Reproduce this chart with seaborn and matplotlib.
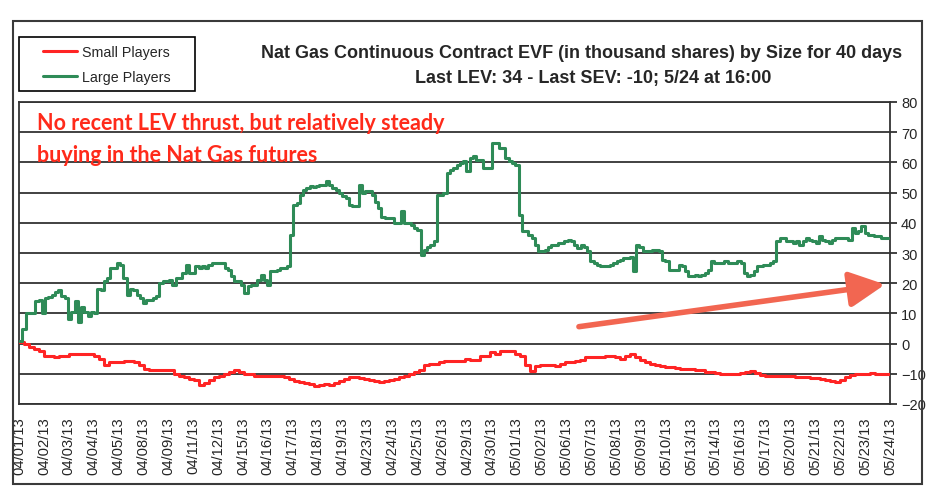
# Nat Gas Continuous Contract EVF by size - recreated with seaborn

import numpy as np
import pandas as pd
import matplotlib.pyplot as plt
import seaborn as sns
from matplotlib.lines import Line2D
from matplotlib.patches import Rectangle
import matplotlib.patheffects as pe

# ==========================================
# Data
# ==========================================

dates = [
    "04/01/13", "04/02/13", "04/03/13", "04/04/13", "04/05/13", "04/08/13",
    "04/09/13", "04/11/13", "04/12/13", "04/15/13", "04/16/13", "04/17/13",
    "04/18/13", "04/19/13", "04/23/13", "04/24/13", "04/25/13", "04/26/13",
    "04/29/13", "04/30/13", "05/01/13", "05/02/13", "05/06/13", "05/07/13",
    "05/08/13", "05/09/13", "05/10/13", "05/13/13", "05/14/13", "05/16/13",
    "05/17/13", "05/20/13", "05/21/13", "05/22/13", "05/23/13", "05/24/13",
]

# large players EVF, thousand shares (04/01 -> 05/24)
large_players = [
    0.7, 5, 10, 10, 10, 14, 14.5, 10, 15, 15.5, 16, 17, 17.6, 15.6, 15, 8.3,
    10.6, 14, 7.3, 12, 10.6, 9, 10.6, 10, 18, 17.6, 20.6, 21.6, 25, 25, 26.6,
    26, 21.6, 16, 18, 17.6, 16, 15, 13.3, 14.3, 14.3, 15, 15.6, 20, 20.6,
    20.6, 21, 19.3, 21.6, 21.6, 23.3, 26, 23.3, 23.3, 25.6, 25, 25.6, 25, 26,
    26.6, 26.6, 26.6, 26.6, 25, 24.3, 22.3, 20.6, 20.6, 19.3, 16.6, 19, 19.3,
    19.3, 21, 22.6, 21, 19.3, 24, 24, 24.3, 25, 25, 25.6, 36, 46, 46.6, 49.3,
    51, 51.6, 52.2, 51.8, 52.2, 52.5, 52.5, 54, 52.5, 51.6, 51, 50, 48.8,
    48.2, 46, 45.5, 45.5, 52.5, 50, 50.5, 50.5, 49.3, 47, 44.8, 42, 41.5,
    41.5, 41.5, 39.9, 39.9, 43.8, 40, 40, 39.3, 38.2, 37.6, 29.3, 31, 32,
    32.6, 34, 49.3, 49.3, 50, 56.5,
    57.5, 58, 59, 59.8, 60.5, 57, 61.5, 62, 60.8, 60.8, 58, 58, 58, 66.5,
    66.5, 64.8, 64.8, 61.5, 60.5, 59.8, 59, 42.5, 37.2, 37.2, 36, 35, 32.6,
    30.6, 30.6, 31, 32, 32.6, 32.6, 33.2, 33.2, 33.9, 34.2, 33.9, 32.6, 31.6,
    32.6, 32, 30.6, 27.2, 26.6, 26, 25.6, 25.6, 25.6, 26, 26.6, 27.2, 27.6,
    28.2, 28.2, 28.8, 23.9, 32.6, 32, 30.6, 30.6, 30.6, 31, 31, 30.6, 27.6,
    27.2, 24.3, 24.3, 24.3, 26, 25.6, 23.9, 22.3, 22.3, 22.6, 22.3, 22.6,
    23.3, 24.3, 27.2, 26.6, 26.6, 26.6, 27.2, 26.6, 26.6, 26.6, 27.2, 26.6,
    23.3, 22.3, 22.6, 23.9, 25.6, 25.6, 26, 26, 26.6, 27.2, 33.9, 35, 35,
    33.9, 33.9, 33.2, 33.9, 32.6, 33.9, 35, 34.2, 33.9, 33.2, 35.5, 34.2,
    33.9, 33.2, 34.2, 35, 35, 35, 35, 34.2, 38.2, 36.5, 37.2, 38.8, 36.5, 36,
    36, 35.5, 35.5, 35, 35, 35,
]

# small players EVF, thousand shares (04/01 -> 05/24)
small_players = [
    0.5, 0, -1, -1.7, -2.3, -4, -4, -4.4, -4, -4, -3.3, -3.3, -3.3, -3.3,
    -3.3, -4, -5, -7.2, -6, -6, -6, -5.6, -5.6, -6, -7.2, -8.3, -8.9, -8.9,
    -8.9, -8.9, -8.9, -10, -10.6, -11, -11.6, -12, -13.6, -13, -12, -11,
    -10.6, -10, -9.3, -8.6, -9.3, -10, -10, -10.6, -10.6, -10.6, -10.6,
    -10.6, -10.6, -11, -11.6, -12.3, -12.6, -13, -13.3, -14, -13.6, -13.3,
    -13.6, -13, -12.3, -11.6, -11, -11, -11.3, -11.6, -12, -12.3, -12.6,
    -12.3, -12, -11.6, -11, -10.6, -10, -9.3, -8.6, -7.2, -6.6, -6.6, -6,
    -5.6, -5.6, -5.6, -5.6, -5, -5.3, -5.3, -4, -4, -2.8, -3.3, -2.5, -2.3,
    -2.3, -3.5, -4, -7.2, -9, -7.5, -7.2, -7, -7, -7.5, -6.6, -6, -6, -5.8,
    -5.3, -4.4, -4.4, -4.4, -4.4, -4, -4, -4.6, -5, -4.2, -3.3, -4.6, -5.3,
    -6, -6.6, -7, -7.5, -7.7, -7.7, -8, -8.3, -8.3, -8.3, -8.6, -8.9, -9.3,
    -9.3, -9.6, -10, -10, -10, -10, -9.6, -9.3, -9, -9.6, -10.3, -10.6,
    -10.6, -10.6, -10.6, -10.6, -10.6, -11, -11, -11, -11.3, -11.3, -11.6,
    -12, -12.3, -12.6, -12, -11, -10.3, -10, -10, -10, -9.6, -10, -10, -10,
    -10,
]

series_names = ["Small Players", "Large Players"]
series_colors = {"Small Players": "#ff2424", "Large Players": "#2e8b57"}

title_line1 = "Nat Gas Continuous Contract EVF (in thousand shares) by Size for 40 days"
title_line2 = "Last LEV: 34 - Last SEV: -10; 5/24 at 16:00"
note_lines = ["No recent LEV thrust, but relatively steady",
              "buying in the Nat Gas futures"]

# arrow drawn on the chart (day index, EVF)
arrow_start = (22.5, 5.6)
arrow_end = (34.8, 19.6)

# ==========================================
# Build long-form table
# ==========================================

df_large = pd.DataFrame({
    "day": np.linspace(0, 34.9, len(large_players)),
    "EVF": large_players,
    "Series": "Large Players",
})
df_small = pd.DataFrame({
    "day": np.linspace(0, 35, len(small_players)),
    "EVF": small_players,
    "Series": "Small Players",
})
df = pd.concat([df_small, df_large], ignore_index=True)

# ==========================================
# Plot
# ==========================================

sns.set_style("white")
plt.rcParams["font.family"] = ["Liberation Sans", "DejaVu Sans"]

W, H = 934, 489
fig = plt.figure(figsize=(W / 100, H / 100), dpi=100)

# outer chart frame
fig.patches.append(Rectangle((13 / W, 1 - 485 / H), (922 - 13) / W, (485 - 22) / H,
                             transform=fig.transFigure, fill=False,
                             edgecolor="#3a3a3a", linewidth=1.5))

ax = fig.add_axes([19 / W, 1 - 405 / H, (890 - 19) / W, (405 - 103) / H])

sns.lineplot(data=df, x="day", y="EVF", hue="Series", hue_order=series_names,
             palette=series_colors, estimator=None, drawstyle="steps-post",
             linewidth=2.2, legend=False, ax=ax, zorder=3)

ax.set_xlim(0, 35)
ax.set_ylim(-20, 80)
ax.set_yticks(range(-20, 81, 10))
ax.yaxis.tick_right()
ax.grid(axis="y", color="#333333", linewidth=1.3)
ax.set_axisbelow(True)

ax.set_xticks(range(len(dates)))
ax.set_xticklabels(dates, rotation=90, fontsize=10.6)
ax.tick_params(axis="x", length=0, pad=9)
ax.tick_params(axis="y", direction="out", length=5, width=1.3, color="#333333",
               labelsize=10.5, pad=3)
ax.set_xlabel("")
ax.set_ylabel("")

for sp in ax.spines.values():
    sp.set_color("#333333")
    sp.set_linewidth(1.3)

# arrow
ax.annotate("", xy=arrow_end, xytext=arrow_start,
            arrowprops=dict(arrowstyle="-|>,head_length=1.2,head_width=0.6",
                            color="#f26651", lw=4, mutation_scale=18,
                            shrinkA=0, shrinkB=0,
                            path_effects=[pe.SimplePatchShadow(offset=(1.5, -1.5), alpha=0.25),
                                          pe.Normal()]),
            zorder=4)

# red comment
fig.text(37 / W, 1 - 123 / H, note_lines[0], color="#ff2a1a", fontsize=15.5,
         fontweight="bold", family="Lato", va="center")
fig.text(37 / W, 1 - 155 / H, note_lines[1], color="#ff2a1a", fontsize=15.5,
         fontweight="bold", family="Lato", va="center")

# title
fig.text(582 / W, 1 - 53 / H, title_line1, ha="center", va="center",
         fontsize=13, fontweight="bold")
fig.text(593 / W, 1 - 78 / H, title_line2, ha="center", va="center",
         fontsize=13, fontweight="bold")

# legend (box drawn separately so the padding matches)
fig.patches.append(Rectangle((19 / W, 1 - 92 / H), (195 - 19) / W, (92 - 38) / H,
                             transform=fig.transFigure, fill=False,
                             edgecolor="black", linewidth=1.2))
handles = [Line2D([0], [0], color=series_colors[n], lw=2.2) for n in series_names]
leg = fig.legend(handles, series_names, loc="upper left",
                 bbox_to_anchor=(43 / W, 1 - 46 / H), fontsize=10.3,
                 frameon=False, handlelength=2.4, labelspacing=0.75,
                 borderpad=0, handletextpad=0.35, borderaxespad=0)

plt.savefig("out.png", dpi=100)
